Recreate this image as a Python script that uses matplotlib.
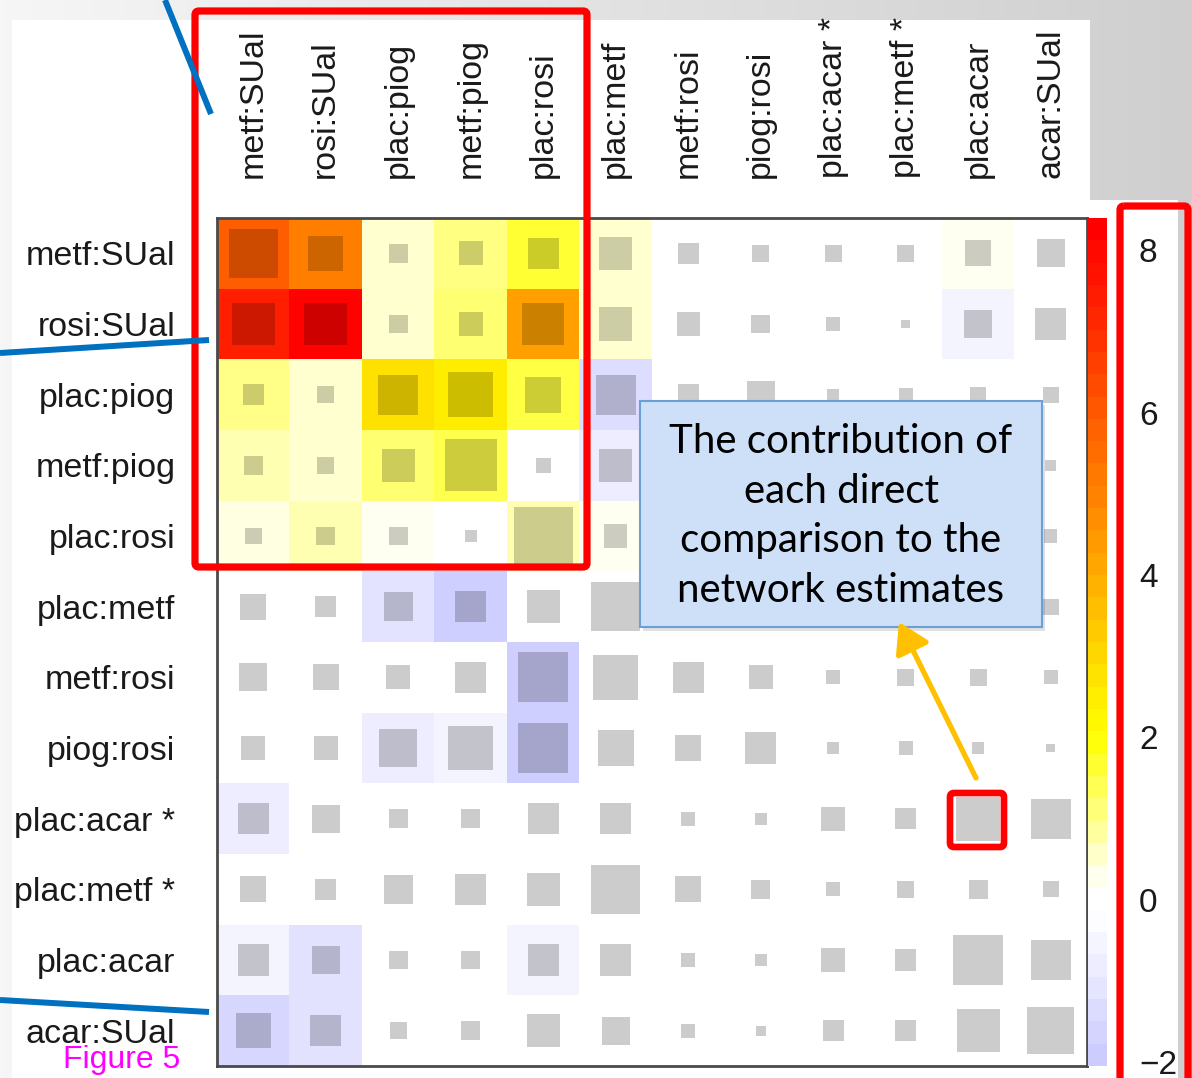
import numpy as np
import matplotlib
matplotlib.use("Agg")
import matplotlib.pyplot as plt
from matplotlib.colors import LinearSegmentedColormap, Normalize
from matplotlib.patches import Rectangle, FancyBboxPatch
import matplotlib.cm as cm

plt.rcParams["font.family"] = ["Liberation Sans", "DejaVu Sans"]

# ---- data ---------------------------------------------------------------
comparisons = ["metf:SUal", "rosi:SUal", "plac:piog", "metf:piog", "plac:rosi",
               "plac:metf", "metf:rosi", "piog:rosi", "plac:acar *", "plac:metf *",
               "plac:acar", "acar:SUal"]

# inconsistency heat value of each cell (row = estimate, column = design)
heat = [
    [5.95, 5.10, 0.47, 1.00, 1.62, 0.45, 0, 0, 0, 0, 0.18, 0],
    [7.45, 8.30, 0.47, 1.12, 4.30, 0.45, 0, 0, 0, 0, -0.65, 0],
    [0.95, 0.45, 2.80, 2.50, 1.50, -1.40, 0, 0, 0, 0, 0, 0],
    [0.67, 0.45, 1.12, 1.38, 0, -0.90, 0, 0, 0, 0, 0, 0],
    [0.35, 0.67, 0.18, 0, 0.67, 0.18, 0, 0, 0, 0, 0, 0],
    [0, 0, -1.20, -1.90, 0, 0, 0, 0, 0, 0, 0, 0],
    [0, 0, 0, 0, -1.90, 0, 0, 0, 0, 0, 0, 0],
    [0, 0, -0.90, -0.65, -1.90, 0, 0, 0, 0, 0, 0, 0],
    [-0.90, 0, 0, 0, 0, 0, 0, 0, 0, 0, 0, 0],
    [0, 0, 0, 0, 0, 0, 0, 0, 0, 0, 0, 0],
    [-0.65, -1.25, 0, 0, -0.65, 0, 0, 0, 0, 0, 0, 0],
    [-1.65, -1.25, 0, 0, 0, 0, 0, 0, 0, 0, 0, 0],
]

# contribution of each direct comparison, as the side of the grey square
# relative to the cell width
contribution = [
    [.68, .48, .26, .33, .43, .46, .29, .23, .23, .23, .36, .39],
    [.59, .59, .26, .33, .58, .46, .32, .26, .19, .12, .39, .43],
    [.29, .23, .55, .62, .50, .55, .29, .39, .17, .19, .22, .22],
    [.26, .23, .46, .72, .21, .46, .26, .33, .14, .17, .19, .15],
    [.23, .26, .26, .17, .81, .32, .23, .29, .17, .17, .19, .18],
    [.36, .29, .40, .43, .46, .68, .36, .26, .19, .23, .26, .22],
    [.39, .36, .33, .43, .69, .62, .43, .33, .19, .23, .23, .19],
    [.33, .33, .52, .62, .69, .50, .36, .43, .17, .19, .17, .12],
    [.43, .39, .26, .26, .43, .43, .19, .17, .33, .29, .61, .55],
    [.36, .29, .40, .43, .46, .68, .36, .26, .19, .23, .26, .22],
    [.43, .39, .26, .26, .43, .43, .19, .17, .33, .29, .69, .55],
    [.48, .43, .23, .26, .46, .39, .19, .14, .29, .29, .59, .65],
]

cbar_ticks = [-2, 0, 2, 4, 6, 8]
callout_text = "The contribution of\neach direct\ncomparison to the\nnetwork estimates"
figure_label = "Figure 5"

# ---- colour scale --------------------------------------------------------
vmin, vmax = -2.05, 8.4
nodes = [(-2.05, (0.80, 0.80, 1.0)), (-0.3, (1, 1, 1)), (0.0, (1, 1, 1)),
         (0.3, (1, 1, 0.9)), (1.0, (1, 1, 0.5)), (2.0, (1, 1, 0)),
         (2.5, (1, 0.93, 0)), (3.3, (1, 0.8, 0)), (4.9, (1, 0.53, 0)),
         (6.2, (1, 0.33, 0)), (7.4, (1, 0.13, 0)), (8.4, (1, 0, 0))]
cmap = LinearSegmentedColormap.from_list(
    "heat", [((v - vmin) / (vmax - vmin), c) for v, c in nodes])
norm = Normalize(vmin, vmax)

# ---- figure --------------------------------------------------------------
W, H = 1192, 1078
fig = plt.figure(figsize=(W / 100, H / 100), dpi=100)

# slide background
bg = fig.add_axes([0, 0, 1, 1], zorder=-10)
bg.set_xlim(0, W); bg.set_ylim(H, 0); bg.axis("off")
grad = np.linspace(0, 1, 256)[None, :]
bg.imshow(grad, extent=[0, W, H, 0], aspect="auto",
          cmap=LinearSegmentedColormap.from_list("g", ["#f6f6f6", "#cfcfcf"]))
bg.add_patch(Rectangle((12, 20), 1078, H, color="white", lw=0))
bg.add_patch(Rectangle((1090, 200), 88, H, color="white", lw=0))

# heat map
left, right, top, bottom = 217, 1087, 218, 1066
ax = fig.add_axes([left / W, 1 - bottom / H, (right - left) / W, (bottom - top) / H], zorder=1)
n = len(comparisons)
ax.imshow(np.array(heat), cmap=cmap, norm=norm, aspect="auto",
          extent=[-0.5, n - 0.5, n - 0.5, -0.5], interpolation="nearest")
cell_w = (right - left) / n
cell_h = (bottom - top) / n
for r in range(n):
    for c in range(n):
        w = contribution[r][c]
        h = w * cell_w / cell_h
        ax.add_patch(Rectangle((c - w / 2, r - h / 2), w, h,
                               facecolor=(0, 0, 0, 0.2), lw=0))
ax.set_xlim(-0.5, n - 0.5)
ax.set_ylim(n - 0.5, -0.5)
ax.set_xticks(range(n))
ax.set_yticks(range(n))
ax.set_xticklabels(comparisons, rotation=90, fontsize=24.5, color="#1a1a1a")
ax.set_yticklabels(comparisons, fontsize=24.5, color="#1a1a1a")
ax.xaxis.tick_top()
ax.tick_params(axis="x", length=0, pad=29)
ax.tick_params(axis="y", length=0, pad=30)
for s in ax.spines.values():
    s.set_color("#4a4a4a")
    s.set_linewidth(2)

# colour bar
cax = fig.add_axes([1088 / W, 1 - bottom / H, 19 / W, (bottom - top) / H], zorder=1)
sm = cm.ScalarMappable(norm=norm, cmap=cmap.resampled(38))
cb = fig.colorbar(sm, cax=cax, ticks=cbar_ticks)
cb.outline.set_visible(False)
cax.tick_params(length=0, pad=23, labelsize=24, labelcolor="#1a1a1a")

# ---- annotations ---------------------------------------------------------
ov = fig.add_axes([0, 0, 1, 1], zorder=10)
ov.set_xlim(0, W); ov.set_ylim(H, 0); ov.axis("off")
ov.patch.set_alpha(0)

red = "#ff0000"
for (x0, y0, x1, y1, lw) in [(195, 11, 587, 567, 5.2),
                             (1120, 206, 1188, 1100, 5.2),
                             (950, 793, 1004, 847, 4.8)]:
    ov.add_patch(FancyBboxPatch((x0, y0), x1 - x0, y1 - y0,
                                boxstyle="round,pad=0,rounding_size=4",
                                fill=False, ec=red, lw=lw))

blue = "#0070c0"
for xs, ys in [([165, 211], [0, 114]), ([0, 209], [353, 340]), ([0, 209], [1000, 1012])]:
    ov.plot(xs, ys, color=blue, lw=4.3, solid_capstyle="butt")

# callout
ov.add_patch(Rectangle((643, 405), 402, 226, facecolor=(0, 0, 0, 0.12), lw=0))
ov.add_patch(Rectangle((640, 401), 402, 226, facecolor="#cde0f8",
                       edgecolor="#6b9fd6", lw=1.5))
ov.text(841, 516, callout_text, ha="center", va="center", fontsize=29,
        family=["Lato", "DejaVu Sans"], color="black", linespacing=1.42)

ov.annotate("", xy=(899, 622), xytext=(976, 778),
            arrowprops=dict(arrowstyle="-|>,head_length=0.9,head_width=0.55",
                            color="#ffc000", lw=3.8, mutation_scale=20,
                            shrinkA=0, shrinkB=0))

ov.text(63, 1060, figure_label, ha="left", va="center", fontsize=23,
        color="#ff00ff")

fig.savefig("out.png", dpi=100)
